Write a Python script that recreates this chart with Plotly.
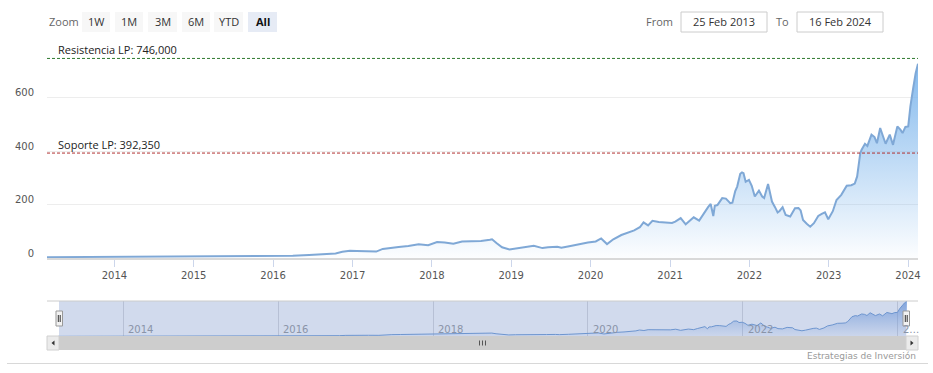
import plotly.graph_objects as go

W, H = 933, 373

# ---------------- data ----------------
dates = ["2013-02-25","2013-05-01","2013-08-01","2013-11-01","2014-02-01","2014-05-01","2014-08-01","2014-11-01",
         "2015-02-01","2015-05-01","2015-08-01","2015-11-01","2016-01-20","2016-04-01","2016-06-15","2016-08-15",
         "2016-10-15","2016-11-15","2016-12-20","2017-01-20","2017-03-01","2017-04-20","2017-05-20","2017-06-20",
         "2017-08-01","2017-09-15","2017-11-01","2017-12-15","2018-01-25","2018-03-01","2018-04-10","2018-05-20",
         "2018-07-01","2018-08-15","2018-09-25","2018-10-05","2018-10-25","2018-11-20","2018-12-24","2019-01-25",
         "2019-03-01","2019-04-15","2019-05-25","2019-06-20","2019-08-01","2019-08-20","2019-10-01","2019-11-10",
         "2019-12-20","2020-01-25","2020-02-19","2020-03-17","2020-04-15","2020-05-22","2020-06-20","2020-07-20",
         "2020-08-15","2020-09-01","2020-09-22","2020-10-12","2020-11-10","2020-12-10","2021-01-10","2021-01-25",
         "2021-02-19","2021-03-14","2021-04-20","2021-05-15","2021-06-01","2021-06-25","2021-07-07","2021-07-19",
         "2021-07-26","2021-08-07","2021-08-29","2021-09-15","2021-10-05","2021-10-15","2021-10-28","2021-11-06",
         "2021-11-20","2021-11-28","2021-12-05","2021-12-15","2021-12-30","2022-01-12","2022-01-26","2022-02-14",
         "2022-03-01","2022-03-10","2022-03-28","2022-04-15","2022-04-29","2022-05-11","2022-05-20","2022-06-03",
         "2022-06-17","2022-07-08","2022-07-30","2022-08-15","2022-08-25","2022-09-05","2022-09-22","2022-10-08",
         "2022-10-25","2022-11-14","2022-11-30","2022-12-15","2022-12-30","2023-01-20","2023-02-06","2023-02-28",
         "2023-03-25","2023-04-15","2023-05-01","2023-05-12","2023-05-26","2023-06-01","2023-06-17","2023-06-28",
         "2023-07-17","2023-07-31","2023-08-11","2023-08-26","2023-09-08","2023-09-20","2023-10-09","2023-10-24",
         "2023-11-13","2023-11-27","2023-12-07","2023-12-20","2024-01-02","2024-01-12","2024-01-25","2024-02-05",
         "2024-02-16"]
prices = [3.1,3.3,3.8,3.8,4.5,4.5,4.6,4.9,
          5.2,5.5,5.5,7.8,7.0,8.8,11.5,15,
          17,23,27,26,25,24,34,38,
          41,45,51,48,60,58,53,62,
          62,64,68,70,56,40,32,36,
          40,46,37,40,42,38,45,52,
          58,62,73,52,70,86,93,103,
          115,133,122,139,135,132,131,136,
          149,126,152,140,162,190,202,157,
          195,198,224,222,205,207,250,267,
          315,320,317,285,292,270,230,252,
          230,224,277,211,190,170,176,190,
          161,155,186,187,178,142,128,117,
          130,157,165,171,145,175,217,236,
          270,272,278,305,390,404,427,419,
          461,452,429,486,455,427,461,423,
          492,480,467,490,492,567,636,690,
          726]

y_ticks = [0, 200, 400, 600, 800]
y_tick_labels = ["0", "200", "400", "600", ""]
year_ticks = ["2014-01-01","2015-01-01","2016-01-01","2017-01-01","2018-01-01","2019-01-01",
              "2020-01-01","2021-01-01","2022-01-01","2023-01-01","2024-01-01"]
year_labels = ["2014","2015","2016","2017","2018","2019","2020","2021","2022","2023","2024"]
nav_ticks = ["2014-01-01","2016-01-01","2018-01-01","2020-01-01","2022-01-01","2024-01-01"]
nav_labels = ["2014","2016","2018","2020","2022","2…"]

resistance = 746.0
support = 392.35
resistance_label = "Resistencia LP: 746,000"
support_label = "Soporte LP: 392,350"
zoom_buttons = ["1W", "1M", "3M", "6M", "YTD", "All"]
date_from, date_to = "25 Feb 2013", "16 Feb 2024"
x_start, x_end = "2013-02-25", "2024-02-16"

# ---------------- helpers (window pixels -> paper) ----------------
def px(x):
    return x / W

def py(y):
    return 1 - y / H

FONT = "Open Sans, DejaVu Sans, sans-serif"
TICKFONT = "DejaVu Sans, Verdana, sans-serif"

fig = go.Figure()

# main series
fig.add_trace(go.Scatter(
    x=dates, y=prices, mode="lines",
    line=dict(color="#7fa8d6", width=2),
    fill="tozeroy",
    fillgradient=dict(type="vertical",
                      colorscale=[[0, "rgba(124,181,236,0.02)"], [1, "rgba(124,181,236,0.95)"]],
                      start=0, stop=730),
    hoverinfo="skip", showlegend=False, xaxis="x", yaxis="y"))

# navigator series
fig.add_trace(go.Scatter(
    x=dates, y=prices, mode="lines",
    line=dict(color="#6d95cf", width=1),
    fill="tozeroy",
    fillgradient=dict(type="vertical",
                      colorscale=[[0, "rgba(110,150,215,0.05)"], [1, "rgba(100,145,215,0.75)"]],
                      start=0, stop=726),
    hoverinfo="skip", showlegend=False, xaxis="x2", yaxis="y2"))

shapes = []
annotations = []

# support / resistance lines
for val, col in [(resistance, "#2f7a2f"), (support, "#b03030")]:
    shapes.append(dict(type="line", xref="paper", yref="y", x0=px(47), x1=px(918), y0=val, y1=val,
                       line=dict(color=col, width=1, dash="3px,2px")))
annotations.append(dict(xref="paper", yref="y", x=px(56), y=resistance, text=resistance_label,
                        showarrow=False, xanchor="left", yanchor="bottom", yshift=-1,
                        font=dict(family=FONT, size=11, color="#222")))
annotations.append(dict(xref="paper", yref="y", x=px(56), y=support, text=support_label,
                        showarrow=False, xanchor="left", yanchor="bottom", yshift=-1,
                        font=dict(family=FONT, size=11, color="#222")))

# zoom buttons
annotations.append(dict(xref="paper", yref="paper", x=px(47), y=py(21.5), text="Zoom", showarrow=False,
                        xanchor="left", yanchor="middle", font=dict(family=FONT, size=11, color="#666")))
btn_x = [(82, 110), (115, 143), (148, 177), (182, 210), (214, 243), (248, 277)]
for (x0, x1), lab in zip(btn_x, zoom_buttons):
    sel = lab == "All"
    shapes.append(dict(type="rect", xref="paper", yref="paper", x0=px(x0), x1=px(x1), y0=py(32), y1=py(12),
                       fillcolor="#e6ebf5" if sel else "#f7f7f7", line=dict(width=0), layer="below"))
    annotations.append(dict(xref="paper", yref="paper", x=px((x0 + x1) / 2), y=py(21.5),
                            text=f"<b>{lab}</b>" if sel else lab, showarrow=False,
                            xanchor="center", yanchor="middle",
                            font=dict(family=FONT, size=11, color="#111" if sel else "#333")))

# From / To boxes
annotations.append(dict(xref="paper", yref="paper", x=px(675), y=py(21.5), text="From", showarrow=False,
                        xanchor="right", yanchor="middle", font=dict(family=FONT, size=11, color="#666")))
annotations.append(dict(xref="paper", yref="paper", x=px(791), y=py(21.5), text="To", showarrow=False,
                        xanchor="right", yanchor="middle", font=dict(family=FONT, size=11, color="#666")))
for (x0, x1), txt in [((681, 767), date_from), ((797, 883), date_to)]:
    shapes.append(dict(type="rect", xref="paper", yref="paper", x0=px(x0), x1=px(x1), y0=py(32), y1=py(12),
                       fillcolor="white", line=dict(color="#cccccc", width=1)))
    annotations.append(dict(xref="paper", yref="paper", x=px((x0 + x1) / 2), y=py(21.5), text=txt,
                            showarrow=False, xanchor="center", yanchor="middle",
                            font=dict(family=FONT, size=11, color="#333")))

# navigator mask and outline
shapes.append(dict(type="rect", xref="paper", yref="paper", x0=px(59), x1=px(906), y0=py(336), y1=py(301),
                   fillcolor="rgba(102,133,194,0.3)", line=dict(width=0), layer="below"))
shapes.append(dict(type="line", xref="paper", yref="paper", x0=px(47), x1=px(918), y0=py(301), y1=py(301),
                   line=dict(color="#cccccc", width=1)))
nav_lab_x = [123, 278, 433, 588, 743, 898]
for xx, lab in zip(nav_lab_x, nav_labels):
    annotations.append(dict(xref="paper", yref="paper", x=px(xx + 3), y=py(329), text=lab, showarrow=False,
                            xanchor="left", yanchor="middle",
                            font=dict(family=TICKFONT, size=10, color="#8a94a8")))

# handles
for (x0, x1) in [(56, 62.5), (903, 909.5)]:
    shapes.append(dict(type="rect", xref="paper", yref="paper", x0=px(x0), x1=px(x1), y0=py(326), y1=py(311),
                       fillcolor="#f2f2f2", line=dict(color="#999999", width=1)))
    for dx in (2.3, 4.2):
        shapes.append(dict(type="line", xref="paper", yref="paper", x0=px(x0 + dx), x1=px(x0 + dx),
                           y0=py(322), y1=py(315), line=dict(color="#333333", width=1)))

# scrollbar
shapes.append(dict(type="rect", xref="paper", yref="paper", x0=px(47), x1=px(918), y0=py(350), y1=py(336),
                   fillcolor="#cdcdcd", line=dict(width=0)))
for (x0, x1) in [(47, 59), (906, 918)]:
    shapes.append(dict(type="rect", xref="paper", yref="paper", x0=px(x0), x1=px(x1), y0=py(350), y1=py(336),
                       fillcolor="#ebebeb", line=dict(color="#d0d0d0", width=1)))
shapes.append(dict(type="path", xref="paper", yref="paper",
                   path=f"M {px(54.5)} {py(340.5)} L {px(51.5)} {py(343)} L {px(54.5)} {py(345.5)} Z",
                   fillcolor="#333", line=dict(width=0)))
shapes.append(dict(type="path", xref="paper", yref="paper",
                   path=f"M {px(910.5)} {py(340.5)} L {px(913.5)} {py(343)} L {px(910.5)} {py(345.5)} Z",
                   fillcolor="#333", line=dict(width=0)))
for gx in (479.5, 482.5, 485.5):
    shapes.append(dict(type="line", xref="paper", yref="paper", x0=px(gx), x1=px(gx), y0=py(345.5), y1=py(340.5),
                       line=dict(color="#555", width=1)))

# bottom rule and credits
shapes.append(dict(type="line", xref="paper", yref="paper", x0=px(7), x1=px(928), y0=py(363.5), y1=py(363.5),
                   line=dict(color="#d8d8d8", width=1)))
annotations.append(dict(xref="paper", yref="paper", x=px(918), y=py(356), text="Estrategias de Inversión",
                        showarrow=False, xanchor="right", yanchor="middle",
                        font=dict(family=TICKFONT, size=9, color="#999")))

fig.update_layout(
    width=W, height=H, autosize=False,
    margin=dict(l=0, r=0, t=0, b=0),
    paper_bgcolor="white", plot_bgcolor="white",
    showlegend=False,
    xaxis=dict(domain=[px(47), px(918)], range=[x_start, x_end], type="date",
               tickvals=year_ticks, ticktext=year_labels,
               ticks="outside", ticklen=7, tickcolor="#ccd6eb", tickwidth=1,
               showline=True, linecolor="#d9d9d9", linewidth=2,
               showgrid=False, zeroline=False, automargin=False,
               tickfont=dict(family=TICKFONT, size=10, color="#555"), fixedrange=True),
    yaxis=dict(domain=[py(258), py(44)], range=[0, 800],
               tickvals=y_ticks, ticktext=y_tick_labels,
               showgrid=True, gridcolor="#ededed", gridwidth=1, zeroline=False,
               ticks="", ticklabelstandoff=12, ticklabelshift=-5, automargin=False,
               tickfont=dict(family=TICKFONT, size=10, color="#555"), fixedrange=True),
    xaxis2=dict(domain=[px(58), px(907)], range=[x_start, x_end], type="date", anchor="y2",
                tickvals=nav_ticks, showticklabels=False, ticks="",
                showgrid=True, gridcolor="rgba(150,160,185,0.45)", gridwidth=1,
                zeroline=False, showline=False, fixedrange=True),
    yaxis2=dict(domain=[py(336.5), py(301)], range=[0, 726], anchor="x2",
                showticklabels=False, showgrid=False, zeroline=False, ticks="", fixedrange=True),
    shapes=shapes, annotations=annotations,
)

fig.write_html("out.html", config={"displayModeBar": False},
               post_script="document.body.style.margin='0';"
                           "document.documentElement.style.overflow='hidden';"
                           "document.body.style.overflow='hidden';")
